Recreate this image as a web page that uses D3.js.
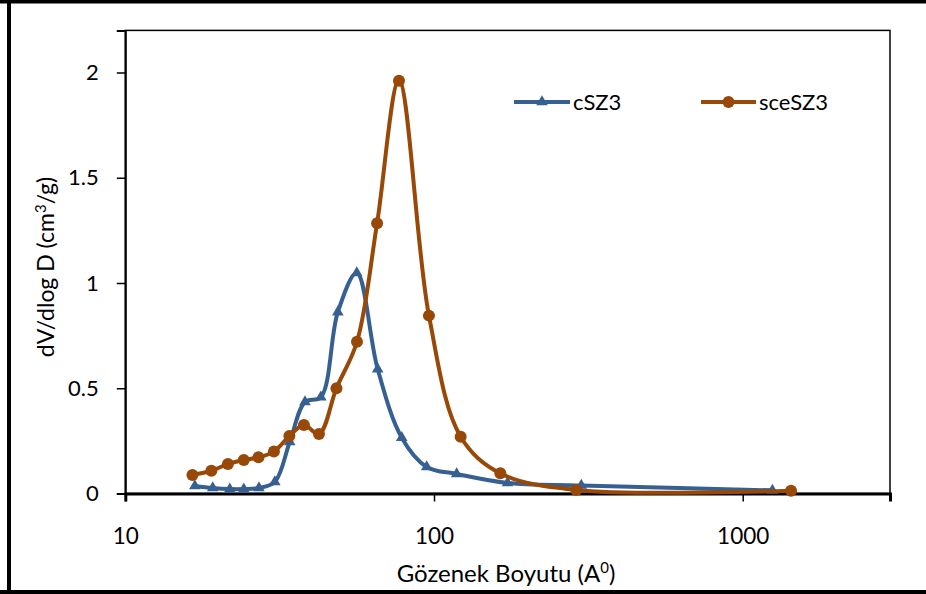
<!DOCTYPE html>
<html>
<head>
<meta charset="utf-8">
<script src="https://cdn.jsdelivr.net/npm/d3@7/dist/d3.min.js"></script>
<style>
  html, body { margin: 0; padding: 0; background: #fff; }
  svg { display: block; }
  text { font-family: Lato, "Open Sans", sans-serif; fill: #000; }
</style>
</head>
<body>
<svg id="chart" width="926" height="594"></svg>
<script>
// Pore size (Å) and dV/dlogD (cm³/g) for the two samples
const poreC = [16.8, 19.2, 21.8, 24.2, 27.1, 30.5, 34.1, 38.2, 43.0, 48.8, 56.2, 65.7, 78.6, 94.7, 118.4, 173, 300, 1248];
const valC  = [0.036, 0.026, 0.021, 0.021, 0.026, 0.055, 0.245, 0.435, 0.458, 0.862, 1.048, 0.591, 0.265, 0.126, 0.093, 0.050, 0.038, 0.015];

const poreSce = [16.5, 19.0, 21.5, 24.2, 27.0, 30.3, 34.0, 37.9, 42.4, 48.3, 56.3, 65.4, 77.0, 96.3, 122, 164, 289, 1434];
const valSce  = [0.088, 0.108, 0.140, 0.159, 0.172, 0.199, 0.273, 0.325, 0.283, 0.500, 0.721, 1.284, 1.961, 0.845, 0.270, 0.096, 0.017, 0.013];

const seriesNames = ["cSZ3", "sceSZ3"];
const seriesColors = ["#376092", "#984807"];
const xTicks = [10, 100, 1000];
const yTicks = [0, 0.5, 1, 1.5, 2];

const svg = d3.select("#chart");

// outer frame (left, top, bottom)
svg.append("path")
  .attr("d", "M9,0 V592 M0,1.5 H926 M0,592 H926")
  .attr("stroke", "#000").attr("stroke-width", 4).attr("fill", "none");

const plotL = 125.3, plotR = 890, plotB = 493.5;

const x = d3.scaleLog().domain([10, 3000]).range([plotL, plotR]);
const y = d3.scaleLinear().domain([0, 2.2]).range([plotB, plotB - 2.2 * 210.5]);

// plot area box
svg.append("rect")
  .attr("x", plotL).attr("y", y(2.2))
  .attr("width", plotR - plotL).attr("height", plotB - y(2.2))
  .attr("fill", "none").attr("stroke", "#000").attr("stroke-width", 1.5);

// axes
const gy = svg.append("g").attr("transform", `translate(${plotL},0)`)
  .call(d3.axisLeft(y).tickValues(yTicks).tickSize(8.5).tickPadding(18)
    .tickFormat(d => String(d)));
gy.select(".domain").attr("stroke-width", 2);
gy.selectAll(".tick line").attr("stroke-width", 1.5);
gy.selectAll(".tick text").attr("font-size", 22).attr("font-family", "Lato");

const gx = svg.append("g").attr("transform", `translate(0,${plotB})`)
  .call(d3.axisBottom(x).tickValues(xTicks).tickSize(8).tickPadding(27)
    .tickFormat(d3.format("d")));
gx.select(".domain").attr("stroke-width", 3);
gx.selectAll(".tick line").attr("stroke-width", 1.5);
gx.selectAll(".tick text").attr("font-size", 22.5).attr("font-family", "Lato");

// axis titles
svg.append("text")
  .attr("x", 506).attr("y", 582)
  .attr("text-anchor", "middle").attr("font-size", 24)
  .html('Gözenek Boyutu (A<tspan dy="-9" font-size="15">0</tspan><tspan dy="9">)</tspan>');

svg.append("text")
  .attr("transform", "translate(54,267) rotate(-90)")
  .attr("text-anchor", "middle").attr("font-size", 23)
  .html('dV/dlog D (cm<tspan dy="-8" font-size="15">3</tspan><tspan dy="8">/g)</tspan>');

// series
const line = d3.line().x(d => x(d[0])).y(d => y(d[1])).curve(d3.curveCatmullRom.alpha(0.5));
const dataC = poreC.map((p, i) => [p, valC[i]]);
const dataSce = poreSce.map((p, i) => [p, valSce[i]]);

const tri = d3.symbol().type(d3.symbolTriangle).size(58);

svg.append("path").datum(dataC).attr("d", line)
  .attr("fill", "none").attr("stroke", seriesColors[0]).attr("stroke-width", 4);
svg.append("g").selectAll("path").data(dataC).join("path")
  .attr("d", tri).attr("transform", d => `translate(${x(d[0])},${y(d[1])})`)
  .attr("fill", seriesColors[0]);

svg.append("path").datum(dataSce).attr("d", line)
  .attr("fill", "none").attr("stroke", seriesColors[1]).attr("stroke-width", 4);
svg.append("g").selectAll("circle").data(dataSce).join("circle")
  .attr("cx", d => x(d[0])).attr("cy", d => y(d[1])).attr("r", 6)
  .attr("fill", seriesColors[1]);

// legend
const legend = [
  { x0: 514, x1: 570, tx: 573 },
  { x0: 701, x1: 756, tx: 759 }
];
legend.forEach((l, i) => {
  const g = svg.append("g");
  const ly = 102;
  g.append("line").attr("x1", l.x0).attr("x2", l.x1).attr("y1", ly).attr("y2", ly)
    .attr("stroke", seriesColors[i]).attr("stroke-width", 4);
  const mx = (l.x0 + l.x1) / 2;
  if (i === 0) {
    g.append("path").attr("d", tri).attr("transform", `translate(${mx},${ly})`).attr("fill", seriesColors[i]);
  } else {
    g.append("circle").attr("cx", mx).attr("cy", ly).attr("r", 6).attr("fill", seriesColors[i]);
  }
  g.append("text").attr("x", l.tx).attr("y", ly + 8).attr("font-size", 22).text(seriesNames[i]);
});
</script>
</body>
</html>
